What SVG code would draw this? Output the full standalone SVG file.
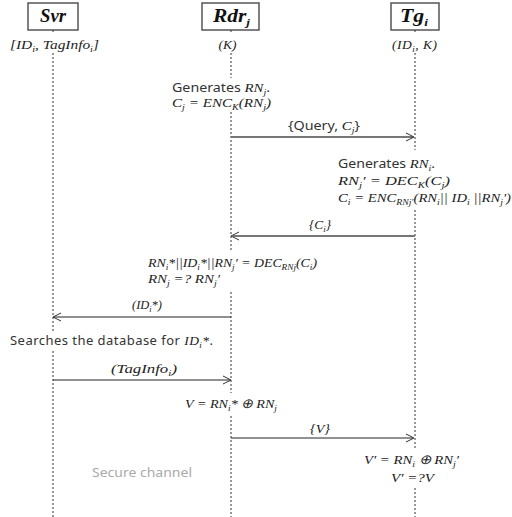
<svg xmlns="http://www.w3.org/2000/svg" width="512" height="517" viewBox="0 0 512 517">
<style>
.box{fill:#fff;stroke:#555;stroke-width:1.5}
.hd{font-family:"Liberation Serif",serif;font-style:italic;font-weight:bold;font-size:18px;fill:#111}
.m{font-family:"Liberation Serif",serif;font-style:italic;font-size:13.5px;fill:#222}
.t{font-family:"Noto Sans","Liberation Sans",sans-serif;font-size:13px;fill:#333}
.life{stroke:#333;stroke-width:1;stroke-dasharray:2,2;fill:none}
.msg{stroke:#222;stroke-width:1;fill:none}
.msgg{stroke:#777;stroke-width:2;fill:none}
.ah{stroke:#333;stroke-width:1;fill:none}
.gr{font-family:"Noto Sans","Liberation Sans",sans-serif;font-size:13px;fill:#aaa}
.s{font-size:9px}
</style>
<g id="svr">
<rect class="box" x="28" y="3" width="50" height="27"/>
<text class="hd" x="40" y="22" textLength="26" lengthAdjust="spacingAndGlyphs">Svr</text>
<text class="m" x="10" y="49" textLength="89" lengthAdjust="spacingAndGlyphs">[ID<tspan class="s" dy="3">i</tspan><tspan dy="-3">, TagInfo</tspan><tspan class="s" dy="3">i</tspan><tspan dy="-3">]</tspan></text>
</g>
<g id="rdr">
<rect class="box" x="202" y="3" width="57" height="27"/>
<text class="hd" x="213" y="22" textLength="37" lengthAdjust="spacingAndGlyphs">Rdr<tspan font-size="11" dy="4">j</tspan></text>
<text class="m" x="227.5" y="49" text-anchor="middle">(K)</text>
</g>
<g id="tg">
<rect class="box" x="391" y="3" width="48" height="27"/>
<text class="hd" x="400" y="22" textLength="28" lengthAdjust="spacingAndGlyphs">Tg<tspan font-size="11" dy="4">i</tspan></text>
<text class="m" x="392" y="49" textLength="45" lengthAdjust="spacing">(ID<tspan class="s" dy="3">i</tspan><tspan dy="-3">, K)</tspan></text>
</g>
<g id="lifelines">
<path class="life" d="M53 30V34M53 53V332M53 351V517"/>
<path class="life" d="M231 30V34M231 53V78M231 112V252M231 292V393M231 416V517"/>
<path class="life" d="M415 30V34M415 53V150M415 210V450M415 488V517"/>
</g>
<g id="notes">
<text class="t" x="172" y="92" textLength="98" lengthAdjust="spacingAndGlyphs">Generates <tspan class="m">RN</tspan><tspan class="m s" dy="2.5">j</tspan><tspan dy="-2.5">.</tspan></text>
<text class="m" x="172" y="107" textLength="99" lengthAdjust="spacingAndGlyphs">C<tspan class="s" dy="2.5">j</tspan><tspan dy="-2.5"> = ENC</tspan><tspan class="s" dy="2.5">K</tspan><tspan dy="-2.5">(RN</tspan><tspan class="s" dy="2.5">j</tspan><tspan dy="-2.5">)</tspan></text>
<text class="t" x="338" y="168" textLength="97" lengthAdjust="spacingAndGlyphs">Generates <tspan class="m">RN</tspan><tspan class="m s" dy="2.5">i</tspan><tspan dy="-2.5">.</tspan></text>
<text class="m" x="338" y="185" textLength="112" lengthAdjust="spacingAndGlyphs">RN<tspan class="s" dy="2.5">j</tspan><tspan dy="-2.5">′ = DEC</tspan><tspan class="s" dy="2.5">K</tspan><tspan dy="-2.5">(C</tspan><tspan class="s" dy="2.5">j</tspan><tspan dy="-2.5">)</tspan></text>
<text class="m" x="338" y="202" textLength="173" lengthAdjust="spacingAndGlyphs">C<tspan class="s" dy="2.5">i</tspan><tspan dy="-2.5"> = ENC</tspan><tspan class="s" dy="2.5">RNj′</tspan><tspan dy="-2.5">(RN</tspan><tspan class="s" dy="2.5">i</tspan><tspan dy="-2.5">|| ID</tspan><tspan class="s" dy="2.5">i</tspan><tspan dy="-2.5"> ||RN</tspan><tspan class="s" dy="2.5">j</tspan><tspan dy="-2.5">′)</tspan></text>
<text class="m" x="148" y="267" textLength="169" lengthAdjust="spacingAndGlyphs">RN<tspan class="s" dy="2.5">i</tspan><tspan dy="-2.5">*||ID</tspan><tspan class="s" dy="2.5">i</tspan><tspan dy="-2.5">*||RN</tspan><tspan class="s" dy="2.5">j</tspan><tspan dy="-2.5">′ = DEC</tspan><tspan class="s" dy="2.5">RNj</tspan><tspan dy="-2.5">(C</tspan><tspan class="s" dy="2.5">i</tspan><tspan dy="-2.5">)</tspan></text>
<text class="m" x="148" y="283" textLength="72" lengthAdjust="spacingAndGlyphs">RN<tspan class="s" dy="2.5">j</tspan><tspan dy="-2.5"> =? RN</tspan><tspan class="s" dy="2.5">j</tspan><tspan dy="-2.5">′</tspan></text>
<text class="t" x="10" y="345" textLength="203" lengthAdjust="spacing">Searches the database for <tspan class="m">ID</tspan><tspan class="m s" dy="2.5">i</tspan><tspan class="m" dy="-2.5">*</tspan><tspan>.</tspan></text>
<text class="m" x="185" y="408" textLength="92" lengthAdjust="spacingAndGlyphs">V = RN<tspan class="s" dy="2.5">i</tspan><tspan dy="-2.5">* ⊕ RN</tspan><tspan class="s" dy="2.5">j</tspan></text>
<text class="m" x="364" y="464" textLength="95" lengthAdjust="spacingAndGlyphs">V′ = RN<tspan class="s" dy="2.5">i</tspan><tspan dy="-2.5"> ⊕ RN</tspan><tspan class="s" dy="2.5">j</tspan><tspan dy="-2.5">′</tspan></text>
<text class="m" x="391" y="482" textLength="43" lengthAdjust="spacingAndGlyphs">V′ =?V</text>
<text class="gr" x="92" y="477" textLength="100" lengthAdjust="spacingAndGlyphs">Secure channel</text>
</g>
<g id="connectors">
<path class="msgg" d="M231 137H413"/>
<path class="ah" d="M406 133L414 137L406 141"/>
<text class="t" x="288" y="130" textLength="72" lengthAdjust="spacingAndGlyphs">{Query, <tspan class="m">C</tspan><tspan class="m s" dy="2.5">j</tspan><tspan dy="-2.5">}</tspan></text>
<path class="msgg" d="M233 236H415"/>
<path class="ah" d="M239 232L231 236L239 240"/>
<text class="m" x="309" y="229" textLength="22" lengthAdjust="spacingAndGlyphs">{C<tspan class="s" dy="2.5">i</tspan><tspan dy="-2.5">}</tspan></text>
<path class="msg" d="M54 317H231"/>
<path class="ah" d="M61 313L53 317L61 321"/>
<text class="m" x="132" y="309" textLength="30" lengthAdjust="spacingAndGlyphs">(ID<tspan class="s" dy="2.5">i</tspan><tspan dy="-2.5">*)</tspan></text>
<path class="msg" d="M53 380H230"/>
<path class="ah" d="M223 376L231 380L223 384"/>
<text class="m" x="111" y="373" textLength="66" lengthAdjust="spacingAndGlyphs">(TagInfo<tspan class="s" dy="2.5">i</tspan><tspan dy="-2.5">)</tspan></text>
<path class="msg" d="M231 438H413"/>
<path class="ah" d="M406 434L414 438L406 442"/>
<text class="m" x="310" y="433" textLength="20" lengthAdjust="spacingAndGlyphs">{V}</text>
</g>
</svg>
